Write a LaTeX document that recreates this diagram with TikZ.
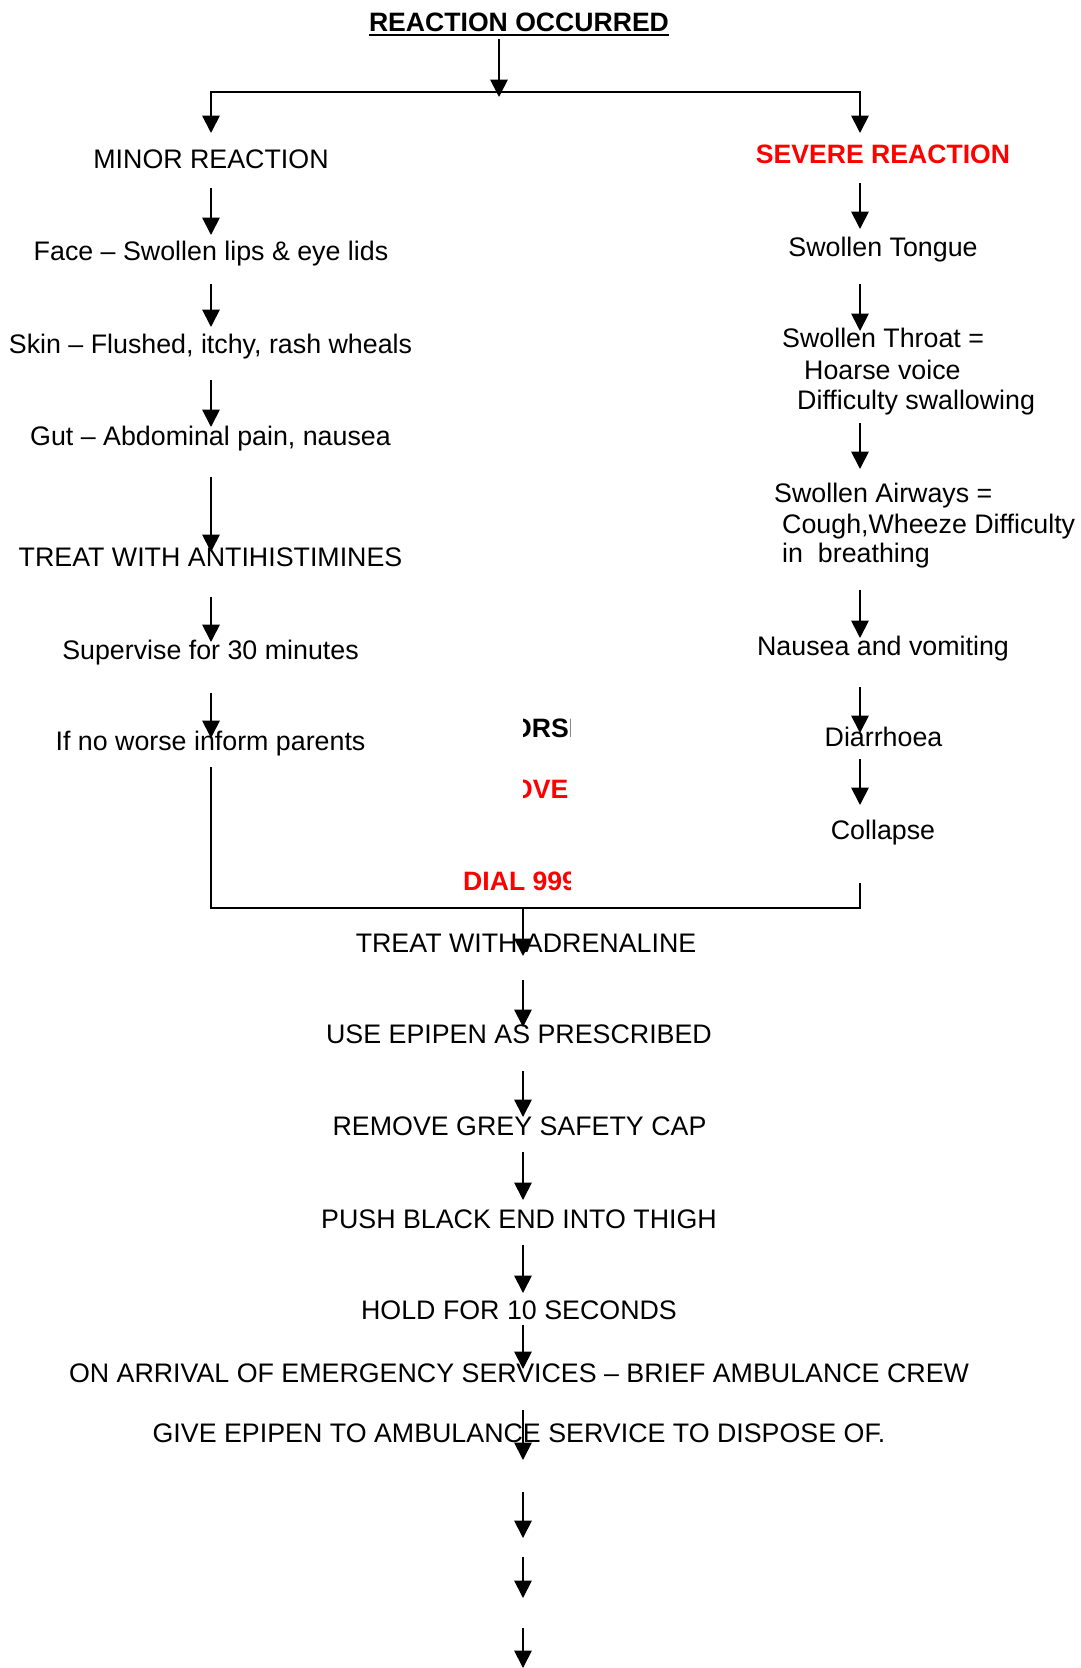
\documentclass[tikz,border=0pt]{standalone}
\usepackage{fontspec}
\setmainfont{Liberation Sans}
\usetikzlibrary{arrows.meta}
\begin{document}
\begin{tikzpicture}[x=1pt,y=-1pt,
  txt/.style={inner sep=0pt, font=\fontsize{26.8}{31}\selectfont},
  ctr/.style={txt, anchor=base},
  lft/.style={txt, anchor=base west},
  bld/.style={font=\fontsize{26.6}{31}\selectfont\bfseries},
  arr/.style={line width=1.8pt, -{Triangle[length=17.5pt,width=17.5pt]}},
  ln/.style={line width=1.8pt}]
\useasboundingbox[fill=white] (0,0) rectangle (1080,1668);

% title
\node[ctr,bld] (title) at (519,31.5) {REACTION OCCURRED};
\draw[line width=2pt] (title.base west) ++(0,3) coordinate (ul1) -- (ul1 -| title.base east);

% left column
\node[ctr] (minor) at (211,168) {MINOR REACTION};
\node[ctr] (face) at (211,260) {Face -- Swollen lips \& eye lids};
\node[ctr] (skin) at (210.5,353) {Skin -- Flushed, itchy, rash wheals};
\node[ctr] (gut) at (210.5,445) {Gut -- Abdominal pain, nausea};
\node[ctr] (antih) at (210.5,566.7) {TREAT WITH ANTIHISTIMINES};
\node[ctr] (superv) at (210.5,659) {Supervise for 30 minutes};
\node[ctr] (noworse) at (210.5,750) {If no worse inform parents};

% right column
\node[ctr,bld,red] (severe) at (883,163.3) {SEVERE REACTION};
\node[ctr] (tongue) at (883,256.7) {Swollen Tongue};
\node[lft] (throat1) at (782,347.5) {Swollen Throat =};
\node[lft] (throat2) at (804,379) {Hoarse voice};
\node[lft] (throat3) at (797,409) {Difficulty swallowing};
\node[lft] (air1) at (774,502) {Swollen Airways =};
\node[lft] (air2) at (782,533) {Cough,Wheeze Difficulty};
\node[lft] (air3) at (782,562) {in\ \ breathing};
\node[ctr] (nausea) at (883,655.5) {Nausea and vomiting};
\node[ctr] (diarr) at (883.5,746.5) {Diarrhoea};
\node[ctr] (collapse) at (883,839.5) {Collapse};

% clipped middle texts
\begin{scope}
  \clip (523,700) rectangle (570.7,812);
  \node[lft,bld] (orse) at (511,737) {ORSE};
  \node[lft,bld,red] (ove) at (512,798) {OVE};
\end{scope}
\begin{scope}
  \clip (440,860) rectangle (570.7,900);
  \node[lft,bld,red] (dial) at (463,890) {DIAL 999};
\end{scope}

% middle column
\node[ctr] (adren) at (526,952) {TREAT WITH ADRENALINE};
\node[ctr] (epipen) at (519,1043.5) {USE EPIPEN AS PRESCRIBED};
\node[ctr] (cap) at (519.5,1135.5) {REMOVE GREY SAFETY CAP};
\node[ctr] (push) at (519,1228.5) {PUSH BLACK END INTO THIGH};
\node[ctr] (hold) at (519,1319.5) {HOLD FOR 10 SECONDS};
\node[ctr] (arrival) at (519,1382) {ON ARRIVAL OF EMERGENCY SERVICES -- BRIEF AMBULANCE CREW};
\node[ctr] (give) at (519,1442.5) {GIVE EPIPEN TO AMBULANCE SERVICE TO DISPOSE OF.};

% branch from title
\coordinate (tA) at (499,39);
\coordinate (tB) at (499,97);
\coordinate (split) at (499,92);
\coordinate (lB) at (211,133);
\coordinate (rB) at (860,133);
\draw[arr] (tA) -- (tB);
\draw[arr, line join=miter] (split) -| (lB);
\draw[arr, line join=miter] (split) -| (rB);

% join to adrenaline
\coordinate (jL) at (211,767);
\coordinate (jR) at (860,883);
\coordinate (jM) at (860,908);
\draw[ln, line join=miter] (jL) |- (jM) -- (jR);

% straight arrows
\foreach \n/\x/\a/\b in {
  l1/211/188/235, l2/211/284/327, l3/211/380/427, l4/211/477/552,
  l5/211/597/642, l6/211/693/738,
  r1/860/183/229, r2/860/284/331, r3/860/423/469, r4/860/590/638,
  r5/860/687/733, r6/860/759/805,
  m1/523/908/956, m2/523/980/1027, m3/523/1071/1117, m4/523/1152/1200,
  m5/523/1245/1293, m6/523/1325/1369, m7/523/1410/1460, m8/523/1492/1538,
  m9/523/1557/1598, m10/523/1628/1668}
{
  \coordinate (\n s) at (\x,\a);
  \coordinate (\n e) at (\x,\b);
  \draw[arr] (\n s) -- (\n e);
}
\end{tikzpicture}
\end{document}
